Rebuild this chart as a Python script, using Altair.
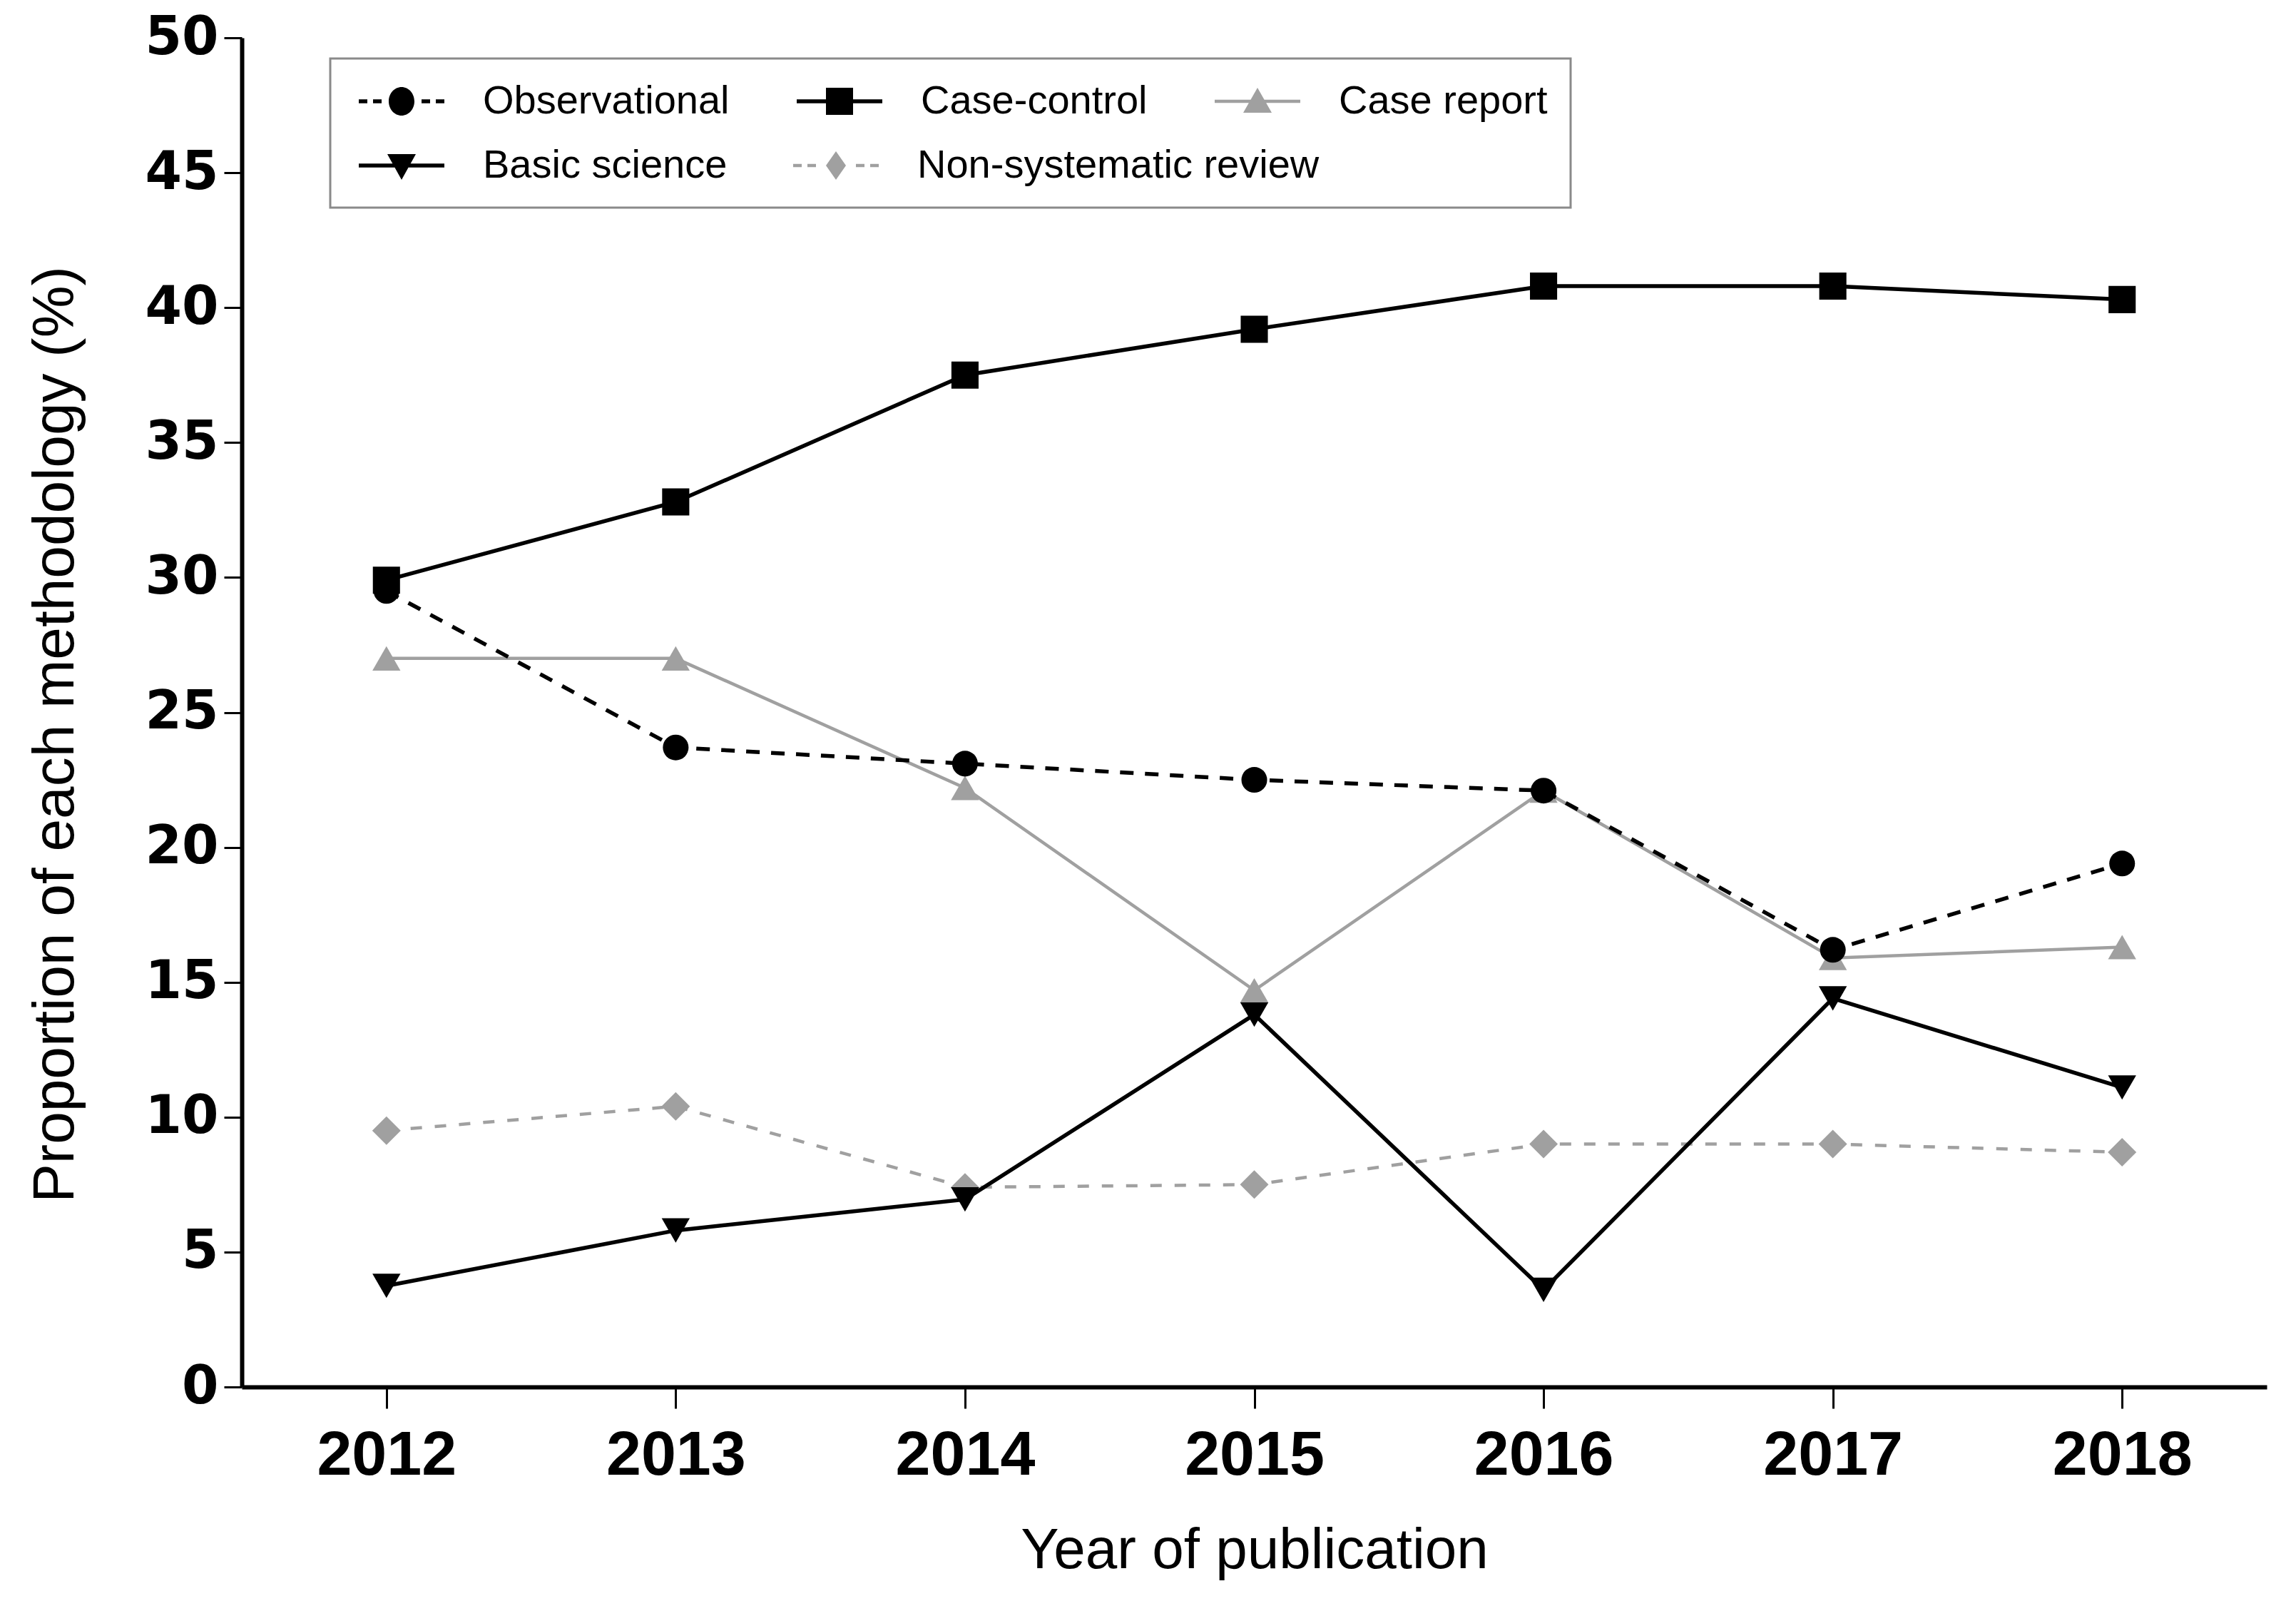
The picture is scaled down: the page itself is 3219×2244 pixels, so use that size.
import altair as alt
import pandas as pd

# ---- data ----
years = [2012, 2013, 2014, 2015, 2016, 2017, 2018]
methods = ["Observational", "Case-control", "Case report", "Basic science", "Non-systematic review"]
observational = [29.5, 23.7, 23.1, 22.5, 22.1, 16.2, 19.4]
case_control = [29.9, 32.8, 37.5, 39.2, 40.8, 40.8, 40.3]
case_report = [27.0, 27.0, 22.2, 14.7, 22.1, 15.9, 16.3]
basic_science = [3.75, 5.8, 6.95, 13.8, 3.6, 14.4, 11.1]
non_systematic = [9.5, 10.4, 7.4, 7.5, 9.0, 9.0, 8.7]
y_ticks = [0, 5, 10, 15, 20, 25, 30, 35, 40, 45, 50]
legend_row1 = ["Observational", "Case-control", "Case report"]
legend_row2 = ["Basic science", "Non-systematic review"]

series_values = [observational, case_control, case_report, basic_science, non_systematic]
rows = []
for m, vals in zip(methods, series_values):
    for yr, v in zip(years, vals):
        rows.append({"Year": yr, "Method": m, "Value": v})
df = pd.DataFrame(rows)

# ---- styles ----
BLACK = "#000000"
GRAY = "#a0a0a0"
style = {
    "Observational": dict(color=BLACK, dash=[19, 16], width=5.5, shape="circle", size=1300),
    "Case-control": dict(color=BLACK, dash=None, width=5.5, shape="square", size=1450),
    "Case report": dict(color=GRAY, dash=None, width=4.5, shape="triangle-up", size=1550),
    "Basic science": dict(color=BLACK, dash=None, width=5.5, shape="triangle-down", size=1550),
    "Non-systematic review": dict(color=GRAY, dash=[16, 18], width=4.5, shape="diamond", size=1600),
}
draw_order = ["Non-systematic review", "Case report", "Basic science", "Observational", "Case-control"]


def rect(x0, x1, h):
    return f"M{x0},{-h}L{x1},{-h}L{x1},{h}L{x0},{h}Z"


def dashed(h):
    return rect(-1, -0.4, h) + rect(0, 0.6, h) + rect(3.4, 4.0, h) + rect(4.4, 5.0, h)


circle_p = "M1.1,0A0.9,1 0 1,1 2.9,0A0.9,1 0 1,1 1.1,0Z"
square_p = "M1.05,-0.95L2.95,-0.95L2.95,0.95L1.05,0.95Z"
tri_up_p = "M2,-0.95L3,0.8L1,0.8Z"
tri_down_p = "M1,-0.8L3,-0.8L2,1.0Z"
diamond_p = "M2,-1.0L2.7,0L2,1.0L1.3,0Z"

legend_path = {
    "Observational": dashed(0.14) + circle_p,
    "Case-control": rect(-1, 5, 0.14) + square_p,
    "Case report": rect(-1, 5, 0.11) + tri_up_p,
    "Basic science": rect(-1, 5, 0.14) + tri_down_p,
    "Non-systematic review": dashed(0.11) + diamond_p,
}

SANS = "Liberation Sans, Arial, sans-serif"

x_enc = alt.X(
    "Year:Q",
    scale=alt.Scale(domain=[2011.5, 2018.5], nice=False, zero=False),
    axis=alt.Axis(
        values=years, format="d", title="Year of publication",
        labelFont=SANS, labelFontSize=88, labelFontWeight="bold", labelColor=BLACK,
        labelPadding=22, labelOverlap=False, labelFlush=False, labelLimit=2000,
        tickSize=30, tickWidth=3, tickColor=BLACK,
        domainWidth=6, domainColor=BLACK, grid=False,
        titleFont=SANS, titleFontSize=80, titleFontWeight="normal", titleColor=BLACK,
        titlePadding=50,
    ),
)
y_enc = alt.Y(
    "Value:Q",
    scale=alt.Scale(domain=[0, 50], nice=False, zero=True),
    axis=alt.Axis(
        values=y_ticks, format="d", title="Proportion of each methodology (%)",
        labelFont="DejaVu Sans", labelFontSize=74, labelFontWeight="bold", labelColor=BLACK,
        labelPadding=8, labelOverlap=False, labelLimit=2000,
        tickSize=25, tickWidth=3, tickColor=BLACK,
        domainWidth=6, domainColor=BLACK, grid=False,
        titleFont=SANS, titleFontSize=82, titleFontWeight="normal", titleColor=BLACK,
        titlePadding=84, titleY=976,
    ),
)

layers = []
for m in draw_order:
    s = style[m]
    line_kw = dict(color=s["color"], strokeWidth=s["width"])
    if s["dash"] is not None:
        line_kw["strokeDash"] = s["dash"]
    base = alt.Chart(df).transform_filter(alt.datum.Method == m)
    layers.append(base.mark_line(**line_kw).encode(x=x_enc, y=y_enc))
    layers.append(
        base.mark_point(filled=True, shape=s["shape"], size=s["size"], color=s["color"], opacity=1)
        .encode(x=x_enc, y=y_enc)
    )

common_legend = dict(
    orient="none", direction="horizontal",
    symbolSize=1600, symbolStrokeWidth=0, symbolOpacity=1,
    labelFont=SANS, labelFontSize=56, labelColor=BLACK, labelOffset=126, labelLimit=2000,
)
# row 1 legend carries the frame; its blank bottom title stretches the frame over row 2
legend_a = alt.Legend(
    title=" ", titleOrient="bottom", titleFontSize=50, titlePadding=39,
    legendX=124, legendY=29, columns=3, padding=32, columnPadding=86,
    strokeColor="#8a8a8a", **common_legend,
)
legend_b = alt.Legend(
    title=None, legendX=156, legendY=151, columns=2, padding=0, columnPadding=84,
    **common_legend,
)


def legend_layer(domain, leg):
    return (
        alt.Chart(df)
        .transform_filter(alt.FieldOneOfPredicate(field="Method", oneOf=domain))
        .mark_point(filled=True, opacity=0)
        .encode(
            x=x_enc,
            y=y_enc,
            color=alt.Color("Method:N", scale=alt.Scale(domain=domain, range=[style[m]["color"] for m in domain]), legend=leg),
            shape=alt.Shape("Method:N", scale=alt.Scale(domain=domain, range=[legend_path[m] for m in domain]), legend=leg),
        )
    )


chart = (
    alt.layer(*layers, legend_layer(legend_row1, legend_a), legend_layer(legend_row2, legend_b))
    .resolve_scale(color="independent", shape="independent")
    .properties(
        width=2839, height=1891,
        autosize=alt.AutoSizeParams(type="none"),
        padding={"left": 331, "top": 45, "right": 30, "bottom": 290},
        background="white",
    )
    .configure_view(stroke=None)
    .configure_legend(strokeWidth=3)
)

chart.save("out.html", embed_options={"renderer": "svg", "actions": False})
